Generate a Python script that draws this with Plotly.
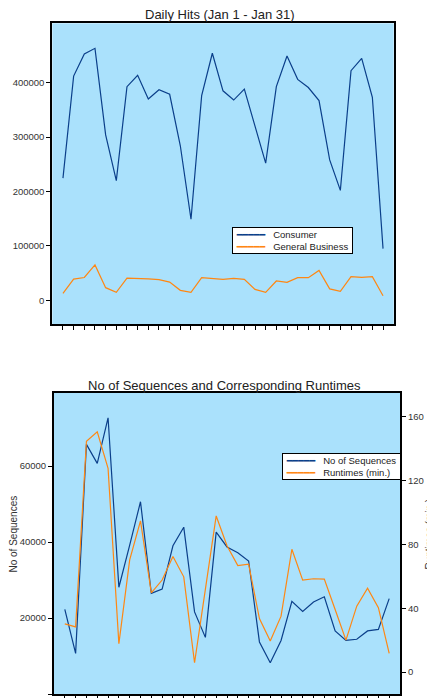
import plotly.graph_objects as go

# ---------------- data ----------------
days = list(range(1, 32))
consumer = [224500, 412000, 452700, 463000, 303900, 220000, 392600, 413500, 370000, 387000,
            378600, 284000, 149000, 376000, 454000, 385000, 368000, 388000, 320000, 252000,
            392600, 449000, 406000, 391000, 367000, 258000, 202000, 422000, 444700, 373000, 95000]
general_business = [12900, 39000, 42000, 65000, 23300, 14700, 41000, 40500, 39500, 38000,
                    33500, 18400, 14700, 41700, 40500, 38600, 40500, 38600, 20200, 14700,
                    35600, 33000, 41700, 41700, 55000, 21000, 16600, 43500, 42300, 43500, 8600]
sequences = [22300, 10700, 65700, 60700, 72700, 28100, 39200, 50600, 26500, 27600,
             39000, 43900, 21600, 14900, 42600, 38700, 37200, 35000, 13700, 8200,
             14100, 24400, 21700, 24200, 25600, 16600, 14100, 14400, 16600, 17000, 25100]
runtimes = [30.2, 28.3, 144.7, 150.7, 127.8, 17.7, 70.3, 94.8, 49.7, 57.7,
            72.5, 59.7, 5.8, 51.6, 97.9, 79.2, 66.8, 67.6, 33.5, 19.5,
            35.0, 77.0, 57.6, 58.5, 58.3, 39.2, 20.0, 41.3, 52.5, 40.4, 11.7]
hits_ticks = [0, 100000, 200000, 300000, 400000]
seq_ticks = [0, 20000, 40000, 60000]
runtime_ticks = [0, 40, 80, 120, 160]

# ---------------- styling ----------------
PAGE_W, PAGE_H = 435, 698
OFF = 8  # default body margin of the html page
W, H = PAGE_W - OFF, PAGE_H - OFF
BG = "#aae1fc"
BLUE = "#0b3f8a"
ORANGE = "#ff8712"
FONT = "Liberation Sans, Arial, Helvetica, sans-serif"
TICKFONT = dict(family=FONT, size=9.5, color="#333333")


def px_x(v):
    return (v - OFF) / W


def px_y(v):
    return 1 - (v - OFF) / H


fig = go.Figure()
fig.add_trace(go.Scatter(x=days, y=consumer, mode="lines", name="Consumer",
                         line=dict(color=BLUE, width=1.2), xaxis="x", yaxis="y", showlegend=False))
fig.add_trace(go.Scatter(x=days, y=general_business, mode="lines", name="General Business",
                         line=dict(color=ORANGE, width=1.2), xaxis="x", yaxis="y", showlegend=False))
fig.add_trace(go.Scatter(x=days, y=sequences, mode="lines", name="No of Sequences",
                         line=dict(color=BLUE, width=1.2), xaxis="x2", yaxis="y2", showlegend=False))
fig.add_trace(go.Scatter(x=days, y=runtimes, mode="lines", name="Runtimes (min.)",
                         line=dict(color=ORANGE, width=1.2), xaxis="x2", yaxis="y3", showlegend=False))

frame = dict(showline=True, linecolor="black", linewidth=2, mirror=True,
             showgrid=False, zeroline=False)
xcommon = dict(range=[0, 32], tickvals=days, showticklabels=False, ticks="outside",
               ticklen=4, tickwidth=1, tickcolor="black", **frame)
ycommon = dict(ticks="outside", ticklen=4, tickwidth=1, tickcolor="black",
               tickfont=TICKFONT, tickformat="d", **frame)

fig.update_layout(
    width=W, height=H,
    margin=dict(l=0, r=0, t=0, b=0),
    paper_bgcolor="white",
    plot_bgcolor=BG,
    font=dict(family=FONT, color="#222222"),
    xaxis=dict(domain=[px_x(52.3), px_x(393.7)], anchor="y", **xcommon),
    yaxis=dict(domain=[px_y(324.3), px_y(23.3)], anchor="x", range=[-44000, 509000],
               tickvals=hits_ticks, **ycommon),
    xaxis2=dict(domain=[px_x(54), px_x(400)], anchor="y2", **xcommon),
    yaxis2=dict(domain=[px_y(694), px_y(392.7)], anchor="x2", range=[0, 79300],
                tickvals=seq_ticks, **ycommon),
    yaxis3=dict(overlaying="y2", anchor="x2", side="right", range=[-13.8, 175.2],
                tickvals=runtime_ticks, ticks="outside", ticklen=4, tickwidth=1,
                tickcolor="black", tickfont=TICKFONT, showline=True, linecolor="black",
                linewidth=2, showgrid=False, zeroline=False),
)


# titles
def add_text(text, x, y, size, angle=0, color="#222222", pad=1):
    fig.add_annotation(text=text, x=px_x(x), y=px_y(y), textangle=angle,
                       xref="paper", yref="paper", xanchor="center", yanchor="middle",
                       borderpad=pad, showarrow=False,
                       font=dict(family=FONT, size=size, color=color))


add_text("Daily Hits (Jan 1 - Jan 31)", 220, 15, 13, pad=0)
add_text("No of Sequences and Corresponding Runtimes", 224, 385.7, 13)
add_text("No of Sequences", 12.5, 534, 10, -90, "#333333")
add_text("Runtimes (min.)", 428.5, 534, 10, -90, "#333333", pad=0)

# legends (box + coloured line glyph + label)
NB = "\u00a0"
GLYPH = "\u2501" * 5


def legend_text(entries):
    rows = []
    for label, color in entries:
        rows.append(f'{NB}<span style="font-family:DejaVu Sans;color:{color}">{GLYPH}</span>'
                    f'{NB * 3}{label}{NB}')
    return "<br>".join(rows)


for (x0, y0, entries) in [
    (232.3, 226.7, [("Consumer", BLUE), ("General Business", ORANGE)]),
    (281.7, 453.3, [("No of Sequences", BLUE), ("Runtimes (min.)", ORANGE)]),
]:
    fig.add_annotation(text=legend_text(entries), x=px_x(x0), y=px_y(y0),
                       xref="paper", yref="paper", xanchor="left", yanchor="top",
                       align="left", showarrow=False, bgcolor="white",
                       bordercolor="black", borderwidth=1, borderpad=1,
                       font=dict(family=FONT, size=9.5, color="#222222"))

fig.write_html("out.html")
